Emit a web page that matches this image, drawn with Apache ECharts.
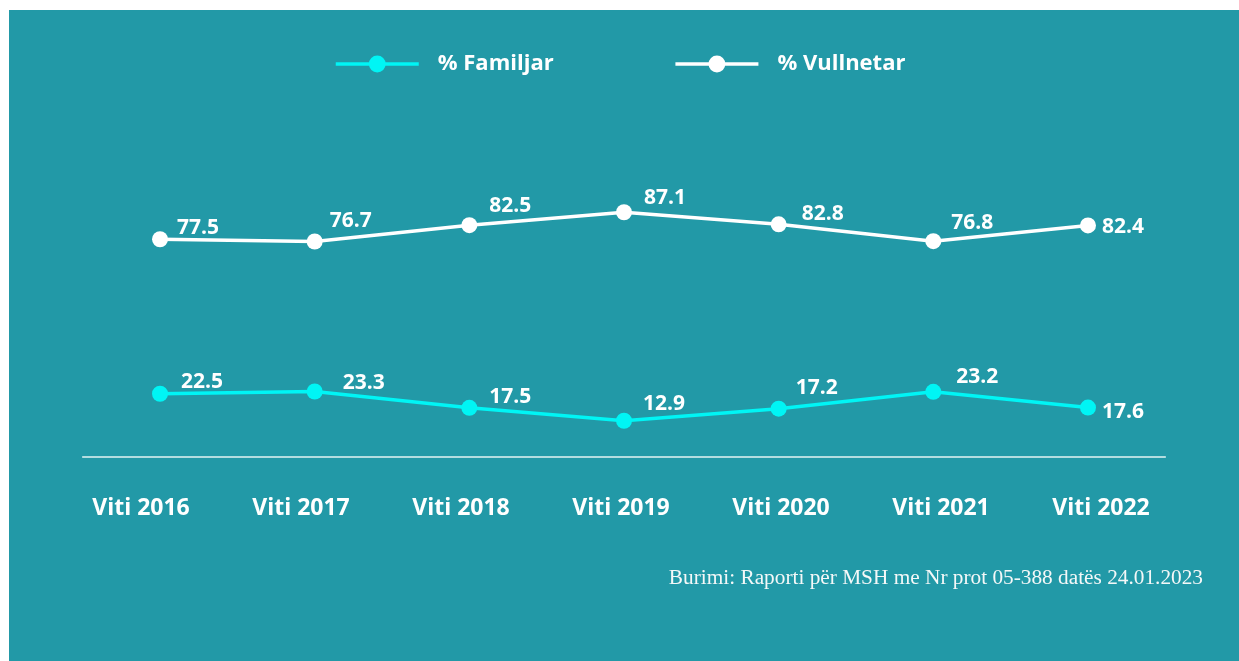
<!DOCTYPE html>
<html>
<head>
<meta charset="utf-8">
<script src="https://cdn.jsdelivr.net/npm/echarts@6/dist/echarts.min.js"></script>
<style>
  html, body { margin: 0; padding: 0; background: #ffffff; }
  #chart {
    position: absolute;
    left: 9px;
    top: 10px;
    width: 1230px;
    height: 651px;
    background: #2299a7;
  }
</style>
</head>
<body>
<div id="chart"></div>
<script>
// kategoritë (vitet)
const years = ['Viti 2016', 'Viti 2017', 'Viti 2018', 'Viti 2019', 'Viti 2020', 'Viti 2021', 'Viti 2022']
// % Familjar
const familjar = [22.5, 23.3, 17.5, 12.9, 17.2, 23.2, 17.6]
// % Vullnetar
const vullnetar = [77.5, 76.7, 82.5, 87.1, 82.8, 76.8, 82.4]
const seriesNames = ['% Familjar', '% Vullnetar']
const sourceText = 'Burimi: Raporti për MSH me Nr prot 05-388 datës 24.01.2023'

// zhvendosja e etiketave [dx, dy] (te vendosura me dore ne origjinal)
const familjarLabelShift = [[13, -12], [20, -9], [12, -11], [11, -17], [9, -21], [15, -15], [6, 4]]
const vullnetarLabelShift = [[9, -11], [7, -20], [12, -19], [12, -14], [15, -10], [10, -18], [6, 2]]

const chart = echarts.init(document.getElementById('chart'))

const labelFont = '"Open Sans", "Noto Sans", sans-serif'

function buildData(values, shifts) {
  return values.map((v, i) => ({ value: v, label: { offset: shifts[i] } }))
}

function makeSeries(name, values, shifts, color) {
  return {
    type: 'line',
    name: name,
    data: buildData(values, shifts),
    symbol: 'circle',
    symbolSize: 16,
    lineStyle: { width: 3.5, color: color },
    itemStyle: { color: color },
    label: {
      show: true,
      position: 'right',
      distance: 0,
      color: '#ffffff',
      fontFamily: labelFont,
      fontWeight: 'bold',
      fontSize: 21
    }
  }
}

const option = {
  backgroundColor: 'transparent',
  animation: false,
  legend: {
    top: 38,
    left: 320,
    itemWidth: 83,
    itemHeight: 21,
    itemGap: 120,
    data: seriesNames,
    lineStyle: { width: 3.5 },
    textStyle: {
      color: '#ffffff',
      fontFamily: labelFont,
      fontWeight: 'bold',
      fontSize: 22,
      padding: [0, 0, 0, 14]
    }
  },
  // grid 0: vijat; grid 1: vetem etiketat e viteve (pak me te shpeshta)
  grid: [
    { left: 73.7, right: 73.7, top: 166, bottom: 204 },
    { left: 52, right: 58, top: 166, bottom: 204 }
  ],
  xAxis: [
    {
      type: 'category',
      gridIndex: 0,
      data: years,
      boundaryGap: true,
      axisLine: { lineStyle: { color: '#e4f3f4', width: 1.5 } },
      axisTick: { show: false },
      axisLabel: { show: false }
    },
    {
      type: 'category',
      gridIndex: 1,
      data: years,
      boundaryGap: true,
      axisLine: { show: false },
      axisTick: { show: false },
      axisLabel: {
        margin: 40,
        color: '#ffffff',
        fontFamily: labelFont,
        fontWeight: 'bold',
        fontSize: 23
      }
    }
  ],
  yAxis: [
    { type: 'value', gridIndex: 0, min: 0, max: 100, show: false },
    { type: 'value', gridIndex: 1, min: 0, max: 100, show: false }
  ],
  graphic: [
    {
      type: 'text',
      right: 36,
      top: 558,
      style: {
        text: sourceText,
        fill: '#f4f8f8',
        font: '21.3px "Liberation Serif", "Times New Roman", serif'
      }
    }
  ],
  series: [
    makeSeries(seriesNames[0], familjar, familjarLabelShift, '#00f5f5'),
    makeSeries(seriesNames[1], vullnetar, vullnetarLabelShift, '#ffffff')
  ]
}

chart.setOption(option)
</script>
</body>
</html>
